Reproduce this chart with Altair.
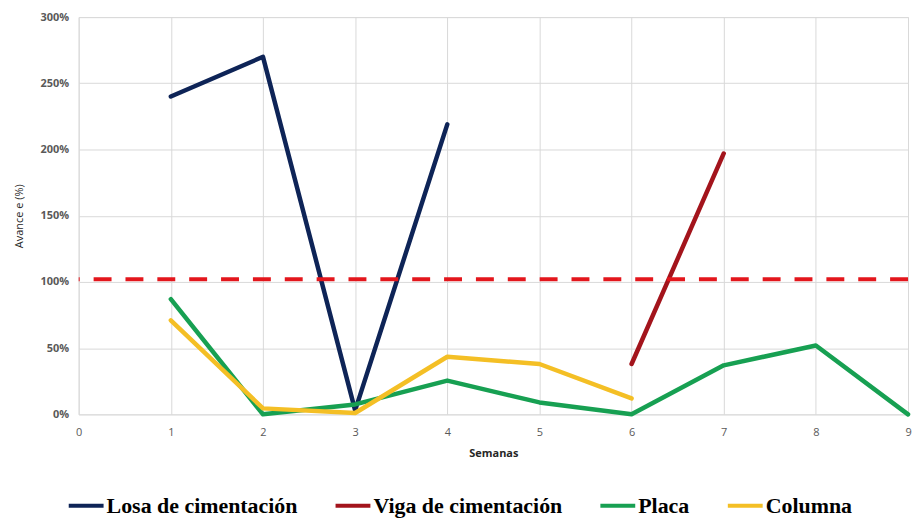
import altair as alt
import pandas as pd

series_names = ["Losa de cimentación", "Viga de cimentación", "Placa", "Columna"]
series_colors = ["#0E2457", "#A3141C", "#17A052", "#F4BF25"]

losa_x = [1, 2, 3, 4]
losa_y = [240, 270, 3, 219]
viga_x = [6, 7]
viga_y = [38, 197]
placa_x = [1, 2, 3, 4, 5, 6, 7, 8, 9]
placa_y = [87, 0, 7.5, 25.5, 9, 0, 37, 52, 0]
columna_x = [1, 2, 3, 4, 5, 6]
columna_y = [71, 4.5, 1, 43.5, 38, 12]
meta_y = [102]

rows = []
for name, xs, ys in [
    (series_names[0], losa_x, losa_y),
    (series_names[1], viga_x, viga_y),
    (series_names[2], placa_x, placa_y),
    (series_names[3], columna_x, columna_y),
]:
    for xv, yv in zip(xs, ys):
        rows.append({"Serie": name, "Semana": xv, "Avance": yv})
df = pd.DataFrame(rows)

x_scale = alt.Scale(domain=[0, 9], nice=False)
y_scale = alt.Scale(domain=[0, 300], nice=False)

lines = alt.Chart(df).mark_line(strokeWidth=4.5, strokeCap="round", strokeJoin="round").encode(
    x=alt.X("Semana:Q", scale=x_scale,
            axis=alt.Axis(title="Semanas", values=list(range(10)), tickCount=10,
                          grid=True, gridColor="#D9D9D9", ticks=False, domain=False,
                          labelFontSize=11, labelColor="#595959", labelFont="Open Sans",
                          labelPadding=12, titleFontSize=11, titleFont="Open Sans",
                          titleFontWeight="bold", titleColor="#262626", titlePadding=10,
                          labelFlush=False)),
    y=alt.Y("Avance:Q", scale=y_scale,
            axis=alt.Axis(title="Avance e (%)", values=[0, 50, 100, 150, 200, 250, 300],
                          labelExpr="datum.value + '%'", grid=True, gridColor="#D9D9D9",
                          ticks=False, domain=False, labelFontSize=11, labelColor="#595959",
                          labelFont="Open Sans", labelFontWeight="bold", labelPadding=10,
                          titleFontSize=11, titleFont="Open Sans", titleFontWeight="normal",
                          titleColor="#262626", titlePadding=16)),
    color=alt.Color("Serie:N",
                    scale=alt.Scale(domain=series_names, range=series_colors),
                    sort=series_names,
                    legend=alt.Legend(title=None, orient="none", direction="horizontal",
                                      legendX=-12, legendY=471, symbolType="stroke",
                                      symbolSize=1225, symbolStrokeWidth=4,
                                      labelFont="Liberation Serif", labelFontSize=22,
                                      labelFontWeight="bold", labelColor="#000000",
                                      columnPadding=30, labelOffset=1, symbolOffset=0,
                                      labelLimit=400)),
    detail="Serie:N",
    order="Semana:Q",
)

meta = alt.Chart(pd.DataFrame({"meta": meta_y})).mark_rule(
    color="#E3161C", strokeWidth=4, strokeDash=[18, 14]
).encode(y=alt.Y("meta:Q", scale=y_scale))

chart = alt.layer(lines, meta).properties(
    width=833, height=399,
    autosize=alt.AutoSizeParams(type="none"),
    padding={"left": 71, "top": 8, "right": 6, "bottom": 103},
).configure_view(stroke=None).configure(background="#FFFFFF")

chart.save("out.html", embed_options={"renderer": "svg", "actions": False})
